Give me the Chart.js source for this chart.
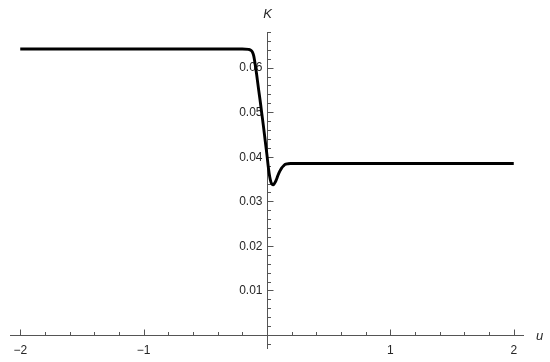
<!DOCTYPE html>
<html>
<head>
<meta charset="utf-8">
<script src="https://cdn.jsdelivr.net/npm/chart.js@4"></script>
<style>
  html, body { margin: 0; padding: 0; background: #fff; }
  #wrap { width: 550px; height: 362px; }
</style>
</head>
<body>
<div id="wrap"><canvas id="plot" width="550" height="362"></canvas></div>
<script>
// curve
const uValues = [-2, -0.5, -0.2, -0.15, -0.13, -0.118, -0.108, -0.1, -0.092, -0.085, -0.078, -0.067,
  -0.056, -0.045, -0.03, -0.015, 0, 0.012, 0.022, 0.032, 0.042, 0.05, 0.058, 0.067, 0.078, 0.09,
  0.103, 0.117, 0.132, 0.148, 0.165, 0.19, 0.23, 0.5, 2];
const kValues = [0.0642, 0.0642, 0.0642, 0.0641, 0.0639, 0.0635, 0.0627, 0.0615, 0.0600, 0.0587,
  0.0572, 0.0549, 0.0527, 0.0503, 0.0471, 0.0437, 0.0403, 0.0374, 0.0355, 0.0343, 0.0338, 0.0337,
  0.0339, 0.0343, 0.0350, 0.0359, 0.0367, 0.0374, 0.0379, 0.0383, 0.0384, 0.0385, 0.0385, 0.0385, 0.0385];

// axis ticks
const xMajorTicks = [-2, -1, 0, 1, 2];
const xTickLabels = ["\u22122", "\u22121", "", "1", "2"];
const xMinorStep = 0.2;
const yMajorTicks = [0.01, 0.02, 0.03, 0.04, 0.05, 0.06];
const yTickLabels = ["0.01", "0.02", "0.03", "0.04", "0.05", "0.06"];
const yMinorStep = 0.002;

const axisColor = "#555555";
const textColor = "#262626";
const font = "12px 'Liberation Sans', Arial, sans-serif";

// draws Mathematica-like axes crossing at the origin
const crossAxes = {
  id: "crossAxes",
  beforeDatasetsDraw(chart) {
    const { ctx, chartArea, scales } = chart;
    const xs = scales.x, ys = scales.y;
    const x0 = Math.round(xs.getPixelForValue(0)) + 0.5;
    const y0 = Math.round(ys.getPixelForValue(0)) + 0.5;
    ctx.save();
    ctx.strokeStyle = axisColor;
    ctx.lineWidth = 1;
    ctx.beginPath();
    ctx.moveTo(chartArea.left, y0);
    ctx.lineTo(chartArea.right, y0);
    ctx.moveTo(x0, chartArea.top);
    ctx.lineTo(x0, chartArea.bottom);

    // x minor + major ticks (pointing up)
    for (let i = Math.ceil(xs.min / xMinorStep); i * xMinorStep <= xs.max; i++) {
      const v = +(i * xMinorStep).toFixed(6);
      if (v === 0) continue;
      const px = Math.round(xs.getPixelForValue(v)) + 0.5;
      const major = xMajorTicks.includes(v);
      ctx.moveTo(px, y0);
      ctx.lineTo(px, y0 - (major ? 6 : 3.5));
    }
    // y minor + major ticks (pointing right)
    for (let i = Math.ceil(ys.min / yMinorStep); i * yMinorStep <= ys.max; i++) {
      const v = +(i * yMinorStep).toFixed(6);
      if (v === 0) continue;
      const py = Math.round(ys.getPixelForValue(v)) + 0.5;
      const major = yMajorTicks.some(t => Math.abs(t - v) < 1e-9);
      ctx.moveTo(x0, py);
      ctx.lineTo(x0 + (major ? 6 : 3.5), py);
    }
    ctx.stroke();

    ctx.fillStyle = textColor;
    ctx.font = font;
    ctx.textAlign = "center";
    ctx.textBaseline = "middle";
    xMajorTicks.forEach((v, i) => {
      if (!xTickLabels[i]) return;
      ctx.fillText(xTickLabels[i], xs.getPixelForValue(v), y0 + 15);
    });
    ctx.textAlign = "right";
    yMajorTicks.forEach((v, i) => {
      ctx.fillText(yTickLabels[i], x0 - 5, ys.getPixelForValue(v) + 0.5);
    });

    ctx.font = "italic 13px 'Liberation Sans', Arial, sans-serif";
    ctx.textAlign = "center";
    ctx.fillText("K", x0, 14);
    ctx.textAlign = "left";
    ctx.fillText("u", chartArea.right + 12, y0 + 1);
    ctx.restore();
  }
};

new Chart(document.getElementById("plot").getContext("2d"), {
  type: "line",
  data: {
    datasets: [{
      data: uValues.map((u, i) => ({ x: u, y: kValues[i] })),
      borderColor: "#000000",
      borderWidth: 2.9,
      pointRadius: 0,
      cubicInterpolationMode: "monotone",
      fill: false
    }]
  },
  options: {
    responsive: false,
    animation: false,
    layout: { padding: { left: 10, right: 26, top: 32, bottom: 13 } },
    scales: {
      x: { type: "linear", min: -2.083, max: 2.083, display: false },
      y: { type: "linear", min: -0.00314, max: 0.068, display: false }
    },
    plugins: { legend: { display: false }, tooltip: { enabled: false } }
  },
  plugins: [crossAxes]
});
</script>
</body>
</html>
